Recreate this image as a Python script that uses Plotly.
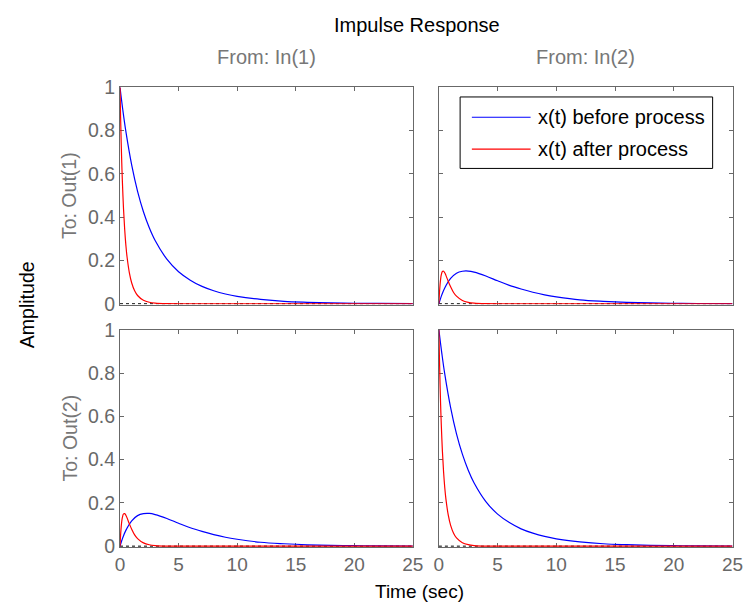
import plotly.graph_objects as go

# ---- data ----
t_before = [0, 0.25, 0.5, 1, 1.5, 2, 2.5, 3, 4, 5, 6, 7, 8, 9, 10, 12, 14, 16, 18, 20, 22, 25]
before_diag = [1.0, 0.891, 0.796, 0.640, 0.519, 0.425, 0.351, 0.292, 0.206, 0.148, 0.109, 0.080,
               0.060, 0.045, 0.034, 0.020, 0.011, 0.0067, 0.0039, 0.0023, 0.0013, 0.0006]
before_off = [0, 0.041, 0.073, 0.117, 0.141, 0.150, 0.151, 0.146, 0.128, 0.106, 0.085, 0.068,
              0.053, 0.041, 0.032, 0.018, 0.011, 0.0063, 0.0037, 0.0022, 0.0012, 0.0006]

t_after = [0, 0.05, 0.1, 0.15, 0.2, 0.3, 0.4, 0.5, 0.6, 0.8, 1.0, 1.25, 1.5, 2, 2.5, 3, 4, 6, 25]
after_diag = [1.0, 0.863, 0.748, 0.651, 0.569, 0.439, 0.343, 0.271, 0.217, 0.143, 0.096, 0.060,
              0.038, 0.016, 0.0067, 0.0028, 0.0005, 0, 0]
after_off = [0, 0.051, 0.088, 0.115, 0.132, 0.149, 0.150, 0.143, 0.131, 0.103, 0.078, 0.052,
             0.035, 0.015, 0.0064, 0.0027, 0.0005, 0, 0]

x_ticks = [0, 5, 10, 15, 20, 25]
y_ticks = [0, 0.2, 0.4, 0.6, 0.8, 1]
y_tick_text = ["0", "0.2", "0.4", "0.6", "0.8", "1"]
legend_names = ["x(t) before process", "x(t) after process"]
legend_colors = ["blue", "red"]
col_titles = ["From: In(1)", "From: In(2)"]
row_titles = ["To: Out(1)", "To: Out(2)"]

W, H = 753, 614
FONT = "Liberation Sans, Arial, Helvetica, sans-serif"
GRAY = "#686868"

def px_x(p):
    return p / W

def px_y(p):
    return 1 - p / H

xdom = [[px_x(117.5), px_x(416.7)], [px_x(443.3), px_x(743.3)]]
ydom = [[px_y(304), px_y(79)], [px_y(555), px_y(330)]]

fig = go.Figure()

panels = [(0, 0), (0, 1), (1, 0), (1, 1)]
for i, (r, c) in enumerate(panels):
    idx = i + 1
    xa = "x" if idx == 1 else f"x{idx}"
    ya = "y" if idx == 1 else f"y{idx}"
    diag = (r == c)
    yb = before_diag if diag else before_off
    yaft = after_diag if diag else after_off
    fig.add_trace(go.Scatter(x=[0, 25], y=[0, 0], mode="lines",
                             line=dict(color="black", width=1, dash="dot"),
                             showlegend=False, hoverinfo="skip", xaxis=xa, yaxis=ya))
    fig.add_trace(go.Scatter(x=t_before, y=yb, mode="lines",
                             line=dict(color=legend_colors[0], width=1.2, shape="spline", smoothing=1),
                             name=legend_names[0], showlegend=False,
                             xaxis=xa, yaxis=ya))
    fig.add_trace(go.Scatter(x=t_after, y=yaft, mode="lines",
                             line=dict(color=legend_colors[1], width=1.2, shape="spline", smoothing=1),
                             name=legend_names[1], showlegend=False,
                             xaxis=xa, yaxis=ya))
    axx = dict(domain=xdom[c], range=[0, 25], anchor=ya, showgrid=False, zeroline=False,
               showline=True, mirror="ticks", linecolor=GRAY, linewidth=1,
               ticks="inside", ticklen=4, tickcolor=GRAY, tickvals=x_ticks,
               showticklabels=(r == 1), tickfont=dict(family=FONT, size=19, color=GRAY),
               layer="below traces", fixedrange=True)
    axy = dict(domain=ydom[r], range=[-0.004, 1], anchor=xa, showgrid=False, zeroline=False,
               showline=True, mirror="ticks", linecolor=GRAY, linewidth=1,
               ticks="inside", ticklen=4, tickcolor=GRAY, tickvals=y_ticks,
               ticktext=y_tick_text,
               showticklabels=(c == 0), tickfont=dict(family=FONT, size=19.5, color=GRAY),
               layer="below traces", fixedrange=True)
    fig.update_layout(**{("xaxis" if idx == 1 else f"xaxis{idx}"): axx,
                         ("yaxis" if idx == 1 else f"yaxis{idx}"): axy})

annots = []
shapes = []
annots.append(dict(text="Impulse Response", x=px_x(421), y=px_y(15), xref="paper", yref="paper",
                   showarrow=False, xanchor="center", yanchor="middle",
                   font=dict(family=FONT, size=20, color="black")))
for c, (txt, cx) in enumerate(zip(col_titles, [267, 593])):
    annots.append(dict(text=txt, x=px_x(cx), y=px_y(48), xref="paper", yref="paper",
                       showarrow=False, xanchor="center", yanchor="middle",
                       font=dict(family=FONT, size=20, color="#777777")))
for r, (txt, cy) in enumerate(zip(row_titles, [191, 442])):
    annots.append(dict(text=txt, x=px_x(66), y=px_y(cy), xref="paper", yref="paper",
                       showarrow=False, xanchor="center", yanchor="middle", textangle=-90,
                       font=dict(family=FONT, size=19.5, color="#777777")))
annots.append(dict(text="Amplitude", x=px_x(22), y=px_y(304), xref="paper", yref="paper",
                   showarrow=False, xanchor="center", yanchor="middle", textangle=-90,
                   font=dict(family=FONT, size=19.5, color="black")))
annots.append(dict(text="Time (sec)", x=px_x(423), y=px_y(601), xref="paper", yref="paper",
                   showarrow=False, xanchor="center", yanchor="middle",
                   font=dict(family=FONT, size=19, color="black")))

# legend drawn as box + sample lines + text
shapes.append(dict(type="rect", xref="paper", yref="paper",
                   x0=px_x(465), x1=px_x(723), y0=px_y(163), y1=px_y(89),
                   line=dict(color="black", width=1), fillcolor="white", layer="above"))
for name, color, ly in zip(legend_names, legend_colors, [110, 143]):
    shapes.append(dict(type="line", xref="paper", yref="paper",
                       x0=px_x(477), x1=px_x(537), y0=px_y(ly), y1=px_y(ly),
                       line=dict(color=color, width=1.2), layer="above"))
    annots.append(dict(text=name, x=px_x(543), y=px_y(ly), xref="paper", yref="paper",
                       showarrow=False, xanchor="left", yanchor="middle",
                       font=dict(family=FONT, size=20, color="black")))

fig.update_layout(
    width=W, height=H, margin=dict(l=0, r=0, t=0, b=0),
    paper_bgcolor="white", plot_bgcolor="white",
    annotations=annots, shapes=shapes,
    showlegend=False,
    hovermode=False,
)

fig.write_html("out.html")
